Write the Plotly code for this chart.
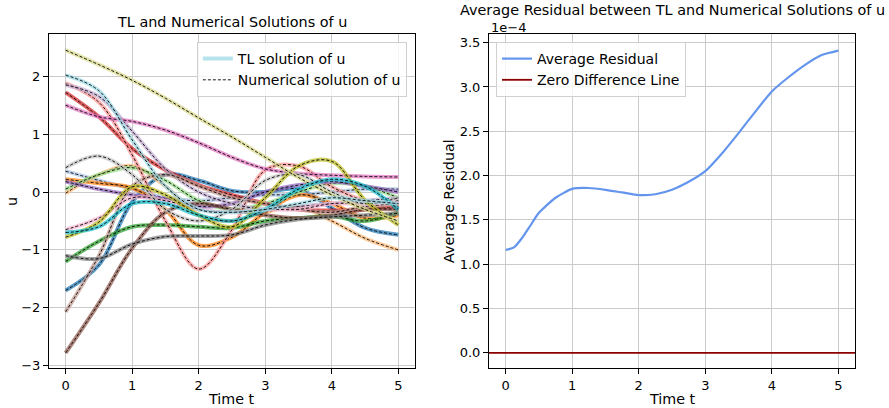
import plotly.graph_objects as go

# ---------------- data ----------------
t = [0, 0.5, 1, 1.5, 2, 2.5, 3, 3.5, 4, 4.5, 5]

colors = ["#1f77b4", "#aec7e8", "#ff7f0e", "#ffbb78", "#2ca02c", "#98df8a",
          "#d62728", "#ff9896", "#9467bd", "#c5b0d5", "#8c564b", "#c49c94",
          "#e377c2", "#f7b6d2", "#7f7f7f", "#c7c7c7", "#bcbd22", "#dbdb8d",
          "#17becf", "#9edae5"]

u_blue = [-1.70, -1.26, -0.17, 0.30, 0.20, 0.02, 0.00, 0.05, -0.28, -0.62, -0.74]
u_lightblue = [0.36, 0.20, 0.05, -0.10, -0.15, -0.10, -0.05, -0.05, 0.00, 0.05, 0.05]
u_orange = [0.22, 0.15, 0.07, -0.30, -0.92, -0.78, -0.35, -0.05, -0.20, -0.45, -0.40]
u_lightorange = [-0.02, 0.30, 0.45, 0.10, -0.40, -0.50, -0.35, -0.25, -0.50, -0.80, -1.00]
u_green = [-1.20, -0.85, -0.60, -0.57, -0.60, -0.62, -0.50, -0.45, -0.42, -0.50, -0.35]
u_lightgreen = [0.05, 0.30, 0.42, 0.20, -0.15, -0.30, -0.20, 0.00, 0.15, 0.10, -0.10]
u_red = [1.72, 1.30, 0.75, 0.38, 0.12, -0.05, -0.20, -0.30, -0.32, -0.30, -0.25]
u_lightred = [1.88, 1.55, 0.64, -0.50, -1.33, -0.65, 0.38, 0.45, 0.09, -0.15, -0.20]
u_purple = [0.18, 0.05, -0.05, -0.12, -0.25, -0.20, 0.00, 0.12, 0.18, 0.10, 0.00]
u_lightpurple = [1.85, 1.65, 1.05, 0.40, 0.00, -0.20, -0.30, -0.25, -0.20, -0.15, -0.10]
u_brown = [-2.78, -1.92, -0.97, -0.35, -0.20, -0.30, -0.40, -0.45, -0.40, -0.30, -0.30]
u_lightbrown = [-2.07, -1.10, 0.10, 0.30, 0.10, -0.10, -0.20, -0.30, -0.35, -0.25, -0.20]
u_pink = [1.50, 1.30, 1.22, 1.07, 0.85, 0.60, 0.40, 0.32, 0.29, 0.27, 0.26]
u_lightpink = [-0.65, -0.45, -0.10, -0.15, -0.30, -0.35, -0.30, -0.30, -0.20, -0.20, -0.15]
u_gray = [-1.10, -1.15, -0.90, -0.77, -0.76, -0.74, -0.57, -0.47, -0.43, -0.40, -0.37]
u_lightgray = [0.42, 0.62, 0.30, -0.30, -0.50, -0.30, 0.20, 0.30, 0.00, -0.20, -0.10]
u_olive = [-0.78, -0.52, 0.09, -0.05, -0.40, -0.60, -0.10, 0.45, 0.53, -0.14, -0.57]
u_lightolive = [2.45, 2.20, 1.93, 1.62, 1.28, 0.95, 0.60, 0.25, -0.05, -0.30, -0.50]
u_cyan = [-0.70, -0.60, -0.20, -0.20, -0.40, -0.50, -0.30, 0.05, 0.22, 0.10, -0.30]
u_lightcyan = [2.02, 1.75, 0.90, 0.10, -0.30, -0.35, -0.30, -0.20, -0.10, -0.15, -0.20]

series_u = [u_blue, u_lightblue, u_orange, u_lightorange, u_green, u_lightgreen,
            u_red, u_lightred, u_purple, u_lightpurple, u_brown, u_lightbrown,
            u_pink, u_lightpink, u_gray, u_lightgray, u_olive, u_lightolive,
            u_cyan, u_lightcyan]

t_res = [0, 0.125, 0.25, 0.375, 0.5, 0.75, 1.0, 1.25, 1.5, 1.75, 2.0, 2.25, 2.5, 2.75,
         3.0, 3.25, 3.5, 3.75, 4.0, 4.25, 4.5, 4.75, 5.0]
avg_residual_e4 = [1.16, 1.19, 1.30, 1.44, 1.58, 1.75, 1.85, 1.86, 1.84, 1.81, 1.78,
                   1.79, 1.84, 1.93, 2.05, 2.25, 2.48, 2.72, 2.95, 3.11, 3.25,
                   3.36, 3.41]
avg_residual = [v * 1e-4 for v in avg_residual_e4]

ytick_right = [0.0, 0.5, 1.0, 1.5, 2.0, 2.5, 3.0, 3.5]

# ---------------- figure ----------------
FONT = "DejaVu Sans"
fig = go.Figure()

for col, u in zip(colors, series_u):
    fig.add_trace(go.Scatter(x=t, y=u, mode="lines", xaxis="x", yaxis="y",
                             line=dict(color=col, width=4, shape="spline"),
                             opacity=0.72, showlegend=False, hoverinfo="skip"))
    fig.add_trace(go.Scatter(x=t, y=u, mode="lines", xaxis="x", yaxis="y",
                             line=dict(color="black", width=0.9, dash="3px,2px",
                                       shape="spline"),
                             showlegend=False, hoverinfo="skip"))

# legend entries (left)
fig.add_trace(go.Scatter(x=[None], y=[None], mode="lines", xaxis="x", yaxis="y",
                         name="TL solution of u", legend="legend",
                         line=dict(color="#9edae5", width=4), opacity=0.75))
fig.add_trace(go.Scatter(x=[None], y=[None], mode="lines", xaxis="x", yaxis="y",
                         name="Numerical solution of u", legend="legend",
                         line=dict(color="black", width=0.9, dash="3px,2px")))

# right panel
fig.add_trace(go.Scatter(x=t_res, y=avg_residual, mode="lines", xaxis="x2", yaxis="y2",
                         name="Average Residual", legend="legend2",
                         line=dict(color="#6495ED", width=2.2, shape="spline",
                                   smoothing=0.6)))
fig.add_trace(go.Scatter(x=[None], y=[None], mode="lines", xaxis="x2", yaxis="y2",
                         name="Zero Difference Line", legend="legend2",
                         line=dict(color="#8B0000", width=1.8)))
fig.add_shape(type="line", xref="x2 domain", yref="y2", x0=0, x1=1, y0=0, y1=0,
              line=dict(color="#8B0000", width=1.8))

axis_common = dict(showline=True, linecolor="black", linewidth=1, mirror=True,
                   ticks="outside", ticklen=5, tickcolor="black", tickwidth=1,
                   showgrid=True, gridcolor="#cbcbcb", gridwidth=1, zeroline=False,
                   tickfont=dict(family=FONT, size=13, color="black"))

fig.update_layout(
    width=889, height=408,
    margin=dict(l=49, r=34, t=34, b=40),
    paper_bgcolor="white", plot_bgcolor="white",
    font=dict(family=FONT, color="black"),
    xaxis=dict(domain=[0, 0.4541], range=[-0.25, 5.25], tickvals=[0, 1, 2, 3, 4, 5],
               anchor="y", **axis_common),
    yaxis=dict(domain=[0, 1], range=[-3.04, 2.73], tickvals=[-3, -2, -1, 0, 1, 2],
               anchor="x", **axis_common),
    xaxis2=dict(domain=[0.5459, 1], range=[-0.25, 5.25], tickvals=[0, 1, 2, 3, 4, 5],
                anchor="y2", **axis_common),
    yaxis2=dict(domain=[0, 1], range=[-0.171e-4, 3.598e-4],
                tickvals=[v * 1e-4 for v in ytick_right],
                ticktext=[f"{v:.1f}" for v in ytick_right],
                anchor="x2", **axis_common),
    legend=dict(x=0.444, xanchor="right", y=0.976, yanchor="top",
                bgcolor="rgba(255,255,255,0.8)", bordercolor="#d0d0d0", borderwidth=1,
                font=dict(family=FONT, size=14, color="black")),
    legend2=dict(x=0.5546, xanchor="left", y=0.976, yanchor="top",
                 bgcolor="rgba(255,255,255,0.8)", bordercolor="#d0d0d0", borderwidth=1,
                 font=dict(family=FONT, size=14, color="black")),
    annotations=[
        dict(text="TL and Numerical Solutions of u", xref="paper", yref="paper",
             x=0.2270, y=1.036, xanchor="center", yanchor="middle", showarrow=False,
             font=dict(family=FONT, size=14.4)),
        dict(text="Average Residual between TL and Numerical Solutions of u",
             xref="paper", yref="paper", x=0.7730, y=1.072, xanchor="center",
             yanchor="middle", showarrow=False, font=dict(family=FONT, size=14.4)),
        dict(text="1e\u22124", xref="paper", yref="paper", x=0.5459, y=1.02,
             xanchor="left", yanchor="middle", showarrow=False,
             font=dict(family=FONT, size=13)),
        dict(text="Time t", xref="paper", yref="paper", x=0.2270, y=-0.093,
             xanchor="center", yanchor="middle", showarrow=False,
             font=dict(family=FONT, size=14.3)),
        dict(text="Time t", xref="paper", yref="paper", x=0.7730, y=-0.093,
             xanchor="center", yanchor="middle", showarrow=False,
             font=dict(family=FONT, size=14.3)),
        dict(text="u", xref="paper", yref="paper", x=-0.046, y=0.5,
             xanchor="center", yanchor="middle", textangle=-90, showarrow=False,
             font=dict(family=FONT, size=14.3)),
        dict(text="Average Residual", xref="paper", yref="paper", x=0.4962, y=0.5,
             xanchor="center", yanchor="middle", textangle=-90, showarrow=False,
             font=dict(family=FONT, size=14.3)),
    ],
)

fig.write_html("out.html", config={"displayModeBar": False},
               post_script="document.body.style.margin='0';document.body.style.overflow='hidden';")
